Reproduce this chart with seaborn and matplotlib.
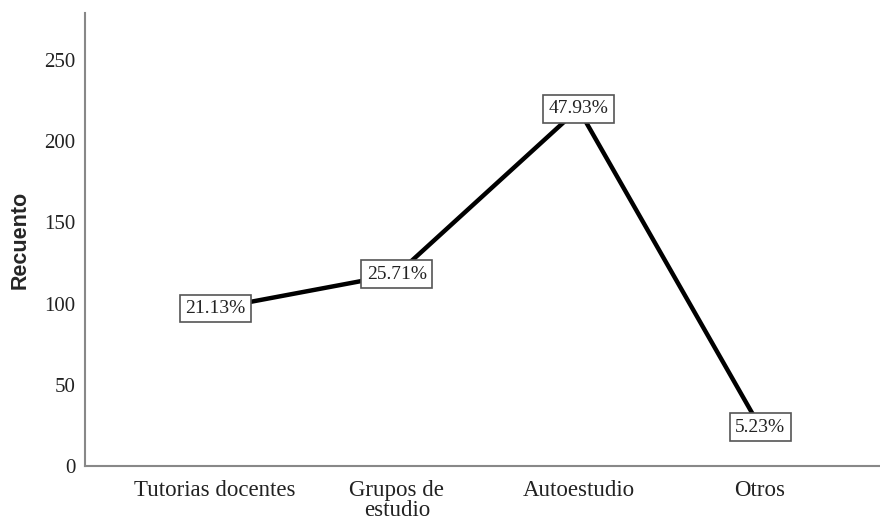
import pandas as pd
import matplotlib.pyplot as plt
import seaborn as sns

# Data
categories = ['Tutorias docentes', 'Grupos de\nestudio', 'Autoestudio', 'Otros']
counts = [97, 118, 220, 24]
percent_labels = ['21.13%', '25.71%', '47.93%', '5.23%']

df = pd.DataFrame({'Categoria': categories, 'Recuento': counts})

sns.set_style('white')
plt.rcParams['font.family'] = ['Liberation Serif', 'DejaVu Serif']

fig = plt.figure(figsize=(8.8, 5.21), dpi=100)
ax = fig.add_axes([0.0966, 0.1056, 0.9034, 0.8694])

sns.lineplot(data=df, x='Categoria', y='Recuento', sort=False,
             color='black', linewidth=3.2, ax=ax)

# Percentage labels in boxes at each point
for i, (c, lab) in enumerate(zip(counts, percent_labels)):
    ax.text(i, c, lab, ha='center', va='center', fontsize=14,
            color='#222222',
            bbox=dict(boxstyle='square,pad=0.28', fc='white', ec='#555555', lw=1.2))

ax.set_ylim(0, 279)
ax.set_xlim(-0.716, 3.66)
ax.set_yticks([0, 50, 100, 150, 200, 250])
ax.tick_params(axis='y', length=0, labelsize=15, colors='#222222', pad=7)
ax.tick_params(axis='x', length=0, labelsize=16.5, colors='#222222', pad=10)
for lab in ax.get_xticklabels():
    lab.set_linespacing(0.92)

ax.set_xlabel('')
ax.set_ylabel('Recuento', fontsize=15.5, fontweight='bold',
              family=['Liberation Sans', 'DejaVu Sans'])
ax.yaxis.set_label_coords(-0.068, 0.5)

for side in ['top', 'right']:
    ax.spines[side].set_visible(False)
for side in ['left', 'bottom']:
    ax.spines[side].set_color('#888888')
    ax.spines[side].set_linewidth(1.5)

fig.savefig('out.png', dpi=100)
